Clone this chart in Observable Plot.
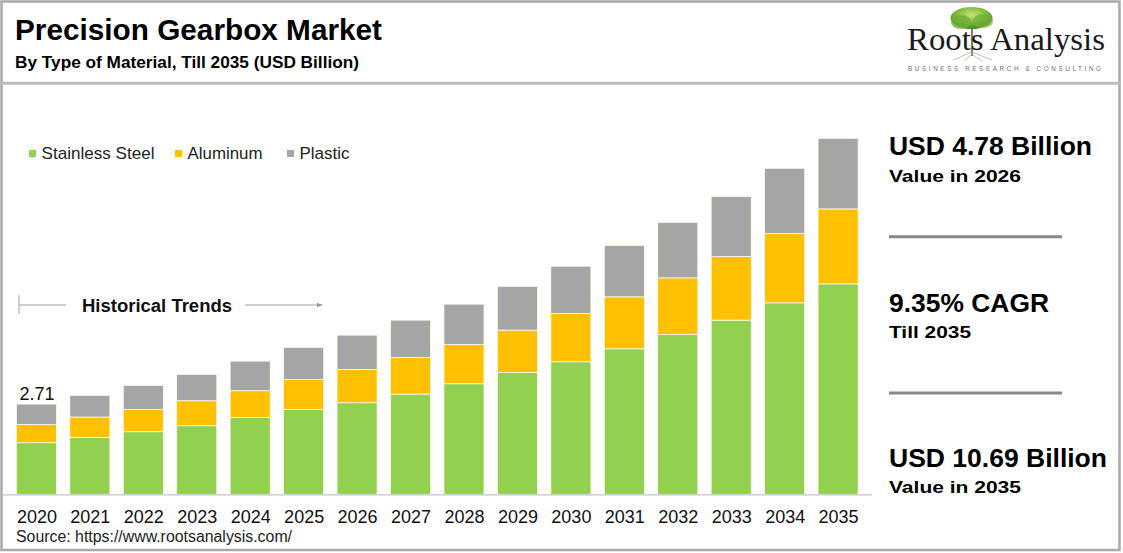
<!DOCTYPE html>
<html>
<head>
<meta charset="utf-8">
<script src="https://cdn.jsdelivr.net/npm/d3@7"></script>
<script src="https://cdn.jsdelivr.net/npm/@observablehq/plot@0.6"></script>
<style>
  html, body { margin: 0; padding: 0; background: #fff; }
  #wrap { position: relative; width: 1123px; height: 553px; overflow: hidden; font-family: "Liberation Sans", Arial, sans-serif; }
  #deco { position: absolute; left: 0; top: 0; }
  #chart { position: absolute; left: 0; top: 0; }
</style>
</head>
<body>
<div id="wrap">
  <svg id="deco" width="1123" height="553" xmlns="http://www.w3.org/2000/svg" font-family="Liberation Sans, Arial, sans-serif">
    <defs>
      <radialGradient id="leaf" cx="50%" cy="35%" r="60%">
        <stop offset="0%" stop-color="#c8e27a"/>
        <stop offset="60%" stop-color="#7dbb3c"/>
        <stop offset="100%" stop-color="#4e8f2a"/>
      </radialGradient>
      <marker id="arrow" viewBox="0 0 10 10" refX="9" refY="5" markerWidth="6" markerHeight="6" orient="auto">
        <path d="M0,1 L10,5 L0,9 z" fill="#9a9a9a"/>
      </marker>
    </defs>
    <!-- frame -->
    <rect x="1.5" y="1.5" width="1118" height="548.5" fill="none" stroke="#a9a9a9" stroke-width="2.5"/>
    <line x1="0" y1="83.3" x2="1121" y2="83.3" stroke="#bdbdbd" stroke-width="3"/>
    <!-- title -->
    <text id="title" x="15" y="39.5" font-size="30" font-weight="bold" fill="#000" textLength="367" lengthAdjust="spacingAndGlyphs"></text>
    <text id="subtitle" x="15" y="68.3" font-size="17" font-weight="bold" fill="#000" textLength="344" lengthAdjust="spacingAndGlyphs"></text>
    <!-- logo -->
    <line x1="972" y1="22" x2="972" y2="56" stroke="#8a7a60" stroke-width="2"/>
    <path d="M972,52 Q962,56 954,60 M972,52 Q982,56 992,60 M972,54 Q968,58 964,61 M972,54 Q977,58 982,61" stroke="#b8b0a0" stroke-width="0.8" fill="none"/>
    <ellipse cx="971.5" cy="18" rx="21" ry="11" fill="url(#leaf)"/>
    <ellipse cx="961" cy="22" rx="10" ry="7" fill="#6fae36" opacity="0.8"/>
    <ellipse cx="983" cy="21" rx="10" ry="7" fill="#6fae36" opacity="0.7"/>
    <text id="logo" x="907" y="49.5" font-family="Liberation Serif, Times New Roman, serif" font-size="31" fill="#1a1a1a" textLength="198" lengthAdjust="spacingAndGlyphs"></text>
    <text id="tagline" x="908" y="70.5" font-size="6.3" fill="#707070" textLength="193" lengthAdjust="spacing"></text>
    <!-- legend -->
    <g id="legend" font-size="17" fill="#222"></g>
    <!-- historical trends -->
    <line x1="19" y1="295" x2="19" y2="314" stroke="#a0a0a0" stroke-width="1"/>
    <line x1="19" y1="305" x2="66" y2="305" stroke="#a0a0a0" stroke-width="1"/>
    <line x1="245" y1="305" x2="322" y2="305" stroke="#a0a0a0" stroke-width="1" marker-end="url(#arrow)"/>
    <text id="hist" x="82" y="311.5" font-size="17.5" font-weight="bold" fill="#111" textLength="150" lengthAdjust="spacingAndGlyphs"></text>
    <!-- right panel -->
    <g id="panel" font-weight="bold" fill="#000"></g>
    <line x1="889" y1="236.7" x2="1062" y2="236.7" stroke="#888" stroke-width="3"/>
    <line x1="889" y1="393" x2="1062" y2="393" stroke="#888" stroke-width="3"/>
    <!-- source -->
    <text id="source" x="16" y="541.5" font-size="16" fill="#222" textLength="276" lengthAdjust="spacingAndGlyphs"></text>
  </svg>
  <div id="chart"></div>
</div>
<script>
// ---- data ----
const years = ["2020","2021","2022","2023","2024","2025","2026","2027","2028","2029","2030","2031","2032","2033","2034","2035"];
const seriesNames = ["Stainless Steel", "Aluminum", "Plastic"];
const seriesColors = ["#92D050", "#FFC000", "#A5A5A5"];
const stainlessSteel = [1.55, 1.71, 1.88, 2.06, 2.31, 2.55, 2.75, 3.01, 3.32, 3.66, 3.98, 4.37, 4.80, 5.23, 5.75, 6.32];
const aluminum       = [0.55, 0.61, 0.67, 0.75, 0.80, 0.90, 1.00, 1.10, 1.18, 1.27, 1.45, 1.56, 1.70, 1.91, 2.08, 2.25];
const plastic        = [0.61, 0.65, 0.72, 0.79, 0.89, 0.96, 1.03, 1.12, 1.21, 1.31, 1.42, 1.54, 1.66, 1.80, 1.96, 2.12];
const labelledYears = ["2020"];

const titleText = "Precision Gearbox Market";
const subtitleText = "By Type of Material, Till 2035 (USD Billion)";
const sourceText = "Source: https://www.rootsanalysis.com/";
const histText = "Historical Trends";
const logoText = "Roots Analysis";
const taglineText = "BUSINESS RESEARCH & CONSULTING";
const panelItems = [
  {big: "USD 4.78 Billion", small: "Value in 2026", bigW: 203, smallW: 132},
  {big: "9.35% CAGR", small: "Till 2035", bigW: 160, smallW: 82},
  {big: "USD 10.69 Billion", small: "Value in 2035", bigW: 218, smallW: 132}
];

// ---- static text ----
document.getElementById("title").textContent = titleText;
document.getElementById("subtitle").textContent = subtitleText;
document.getElementById("source").textContent = sourceText;
document.getElementById("hist").textContent = histText;
document.getElementById("logo").textContent = logoText;
document.getElementById("tagline").textContent = taglineText;

const NS = "http://www.w3.org/2000/svg";
function mk(tag, attrs, parent, text) {
  const el = document.createElementNS(NS, tag);
  for (const k in attrs) el.setAttribute(k, attrs[k]);
  if (text != null) el.textContent = text;
  parent.appendChild(el);
  return el;
}
// legend
const legendG = document.getElementById("legend");
const legendX = [29, 175, 287];
const legendW = [113, 75, 50];
seriesNames.forEach((s, i) => {
  mk("rect", {x: legendX[i], y: 150, width: 7, height: 7, fill: seriesColors[i]}, legendG);
  mk("text", {x: legendX[i] + 12.5, y: 158.5, textLength: legendW[i], lengthAdjust: "spacingAndGlyphs"}, legendG, s);
});
// right panel
const panelG = document.getElementById("panel");
const bigY = [155, 311.7, 466.7];
const smallY = [181.7, 338, 493];
panelItems.forEach((p, i) => {
  mk("text", {x: 889, y: bigY[i], "font-size": 26, textLength: p.bigW, lengthAdjust: "spacingAndGlyphs"}, panelG, p.big);
  mk("text", {x: 889, y: smallY[i], "font-size": 17, textLength: p.smallW, lengthAdjust: "spacingAndGlyphs"}, panelG, p.small);
});

// ---- chart data table ----
const seriesValues = [stainlessSteel, aluminum, plastic];
const rows = [];
years.forEach((yr, j) => {
  seriesNames.forEach((s, i) => rows.push({year: yr, series: s, value: seriesValues[i][j]}));
});
const totals = years.map((yr, j) => ({year: yr, total: stainlessSteel[j] + aluminum[j] + plastic[j]}));
const labels = totals.filter(d => labelledYears.includes(d.year));

const chart = Plot.plot({
  width: 872,
  height: 553,
  marginLeft: 3,
  marginRight: 0.5,
  marginTop: 94.7,
  marginBottom: 58.7,
  style: {background: "transparent", fontFamily: "Liberation Sans, Arial, sans-serif", color: "#111"},
  x: {domain: years, padding: 0.25, round: false, label: null},
  y: {domain: [0, 12], axis: null},
  color: {domain: seriesNames, range: seriesColors},
  marks: [
    Plot.barY(rows, {x: "year", y: "value", fill: "series", stroke: "#fffbe6", strokeWidth: 0.8}),
    Plot.ruleY([0], {stroke: "#c4c4c4", strokeWidth: 1.2}),
    Plot.text(labels, {x: "year", y: "total", text: d => d.total.toFixed(2), lineAnchor: "bottom", dy: -5, fontSize: 18, fill: "#111"}),
    Plot.axisX({tickSize: 0, tickPadding: 15, fontSize: 18, label: null, fill: "#111"})
  ]
});
document.getElementById("chart").appendChild(chart);
</script>
</body>
</html>
